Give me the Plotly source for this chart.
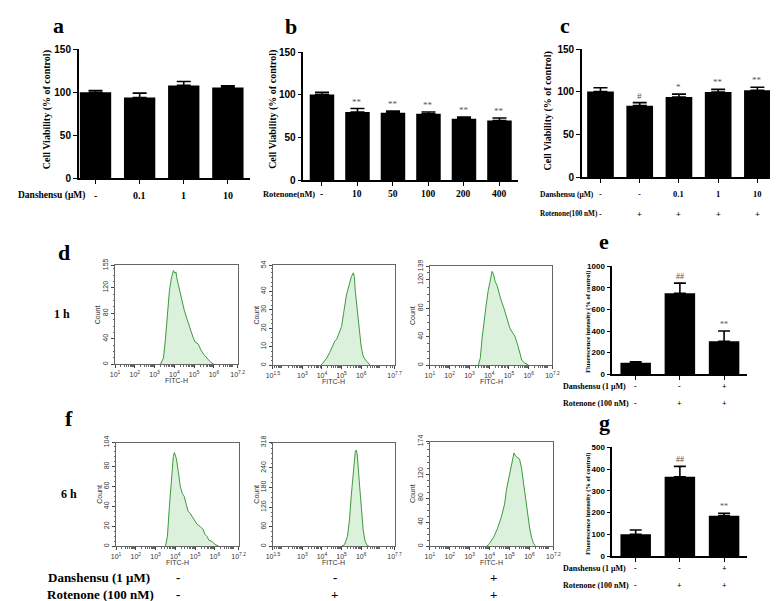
import plotly.graph_objects as go

W, H = 778, 601
def X(px): return px / W
def Y(py): return 1 - py / H

# ---------------- data ----------------
a_labels = ["-", "0.1", "1", "10"]
a_values = [100, 94, 108, 105.5]
a_errors = [2, 5, 4.5, 2]

b_labels = ["-", "10", "50", "100", "200", "400"]
b_values = [100.5, 80, 79, 78, 72, 70]
b_errors = [2.5, 4, 2, 2, 2, 3]
b_marks = ["", "**", "**", "**", "**", "**"]

c_dan = ["-", "-", "0.1", "1", "10"]
c_rot = ["-", "+", "+", "+", "+"]
c_values = [100.5, 84, 94, 100, 102]
c_errors = [4.5, 3.5, 3.5, 3, 3.5]
c_marks = ["", "#", "*", "**", "**"]

eg_dan = ["-", "-", "+"]
eg_rot = ["-", "+", "+"]
e_values = [105, 750, 305]
e_errors = [10, 95, 95]
e_marks = ["", "##", "**"]
g_values = [100, 365, 186]
g_errors = [20, 48, 11]
g_marks = ["", "##", "**"]

# flow cytometry histograms: log10(FITC-H) and counts
h1_log = [3.3, 3.45, 3.55, 3.65, 3.75, 3.85, 3.95, 4.02, 4.08, 4.12, 4.2, 4.3, 4.4, 4.5, 4.65, 4.8, 4.95, 5.05, 5.2, 5.35, 5.5, 5.7, 5.85, 6.0]
h1_cnt = [0, 10, 40, 80, 115, 135, 147, 143, 145, 136, 125, 108, 98, 85, 70, 55, 42, 35, 32, 22, 15, 8, 3, 0]
h2_log = [3.95, 4.1, 4.25, 4.4, 4.55, 4.65, 4.75, 4.85, 5.0, 5.1, 5.25, 5.4, 5.5, 5.6, 5.65, 5.7, 5.8, 5.9, 5.95, 6.0, 6.1, 6.2, 6.3, 6.45]
h2_cnt = [0, 2, 4, 7, 11, 13, 14, 17, 21, 28, 38, 44, 48, 50, 48, 40, 30, 22, 15, 10, 5, 3, 2, 0]
h3_log = [3.45, 3.55, 3.65, 3.75, 3.85, 3.95, 4.05, 4.15, 4.22, 4.3, 4.4, 4.5, 4.6, 4.75, 4.9, 5.05, 5.2, 5.3, 5.45, 5.55, 5.65, 5.8, 6.0]
h3_cnt = [0, 10, 40, 65, 85, 105, 120, 132, 128, 118, 112, 100, 92, 80, 66, 52, 45, 41, 28, 15, 7, 3, 0]
h4_log = [3.5, 3.6, 3.7, 3.8, 3.9, 3.95, 4.05, 4.15, 4.25, 4.35, 4.45, 4.55, 4.65, 4.75, 4.85, 4.95, 5.1, 5.25, 5.4, 5.5, 5.6, 5.7, 5.85, 6.0, 6.2]
h4_cnt = [0, 10, 40, 70, 90, 94, 88, 75, 60, 53, 50, 42, 35, 33, 30, 26, 22, 20, 17, 12, 10, 6, 5, 2, 0]
h5_log = [5.0, 5.15, 5.3, 5.4, 5.5, 5.6, 5.7, 5.75, 5.8, 5.9, 6.0, 6.1, 6.2, 6.3, 6.4]
h5_cnt = [0, 5, 30, 80, 160, 240, 290, 295, 280, 200, 110, 50, 15, 3, 0]
h6_log = [3.85, 4.0, 4.2, 4.4, 4.6, 4.75, 4.85, 4.95, 5.05, 5.15, 5.22, 5.3, 5.4, 5.5, 5.6, 5.7, 5.8, 5.9, 6.0, 6.1, 6.2, 6.3]
h6_cnt = [0, 5, 15, 30, 50, 70, 95, 110, 125, 145, 155, 150, 147, 145, 130, 105, 80, 55, 32, 15, 5, 0]

hist_x_ticks_a = [1, 2, 3, 4, 5, 6, 7.2]
hist_x_ticks_b = [1.5, 3, 4, 5, 6, 7.7]

# ---------------- styles ----------------
NARROW = "Liberation Sans Narrow, Arial Narrow, Liberation Sans, Arial"
SERIF = "Liberation Serif, Times New Roman, serif"
SANS = "Liberation Sans, Arial, sans-serif"

fig = go.Figure()
layout = dict(width=W, height=H, margin=dict(l=0, r=0, t=0, b=0),
              paper_bgcolor="white", plot_bgcolor="white", showlegend=False)
annotations = []

def ax_name(i, kind):
    return f"{kind}axis" if i == 1 else f"{kind}axis{i}"

def ref(i, kind):
    return kind if i == 1 else f"{kind}{i}"

def bar_panel(i, values, errors, xdom, ydom, xrange, yrange, ytick, bw, capw, tfs):
    n = len(values)
    fig.add_trace(go.Bar(
        x=list(range(n)), y=values, width=bw,
        marker=dict(color="black", line=dict(width=0)),
        error_y=dict(type="data", array=errors, arrayminus=[0] * n, symmetric=False,
                     color="black", thickness=1.6, width=capw),
        xaxis=ref(i, "x"), yaxis=ref(i, "y")))
    layout[ax_name(i, "x")] = dict(
        domain=[X(xdom[0]), X(xdom[1])], anchor=ref(i, "y"), range=xrange,
        autorange=False,
        tickvals=list(range(n)), showticklabels=False, ticks="outside", ticklen=4,
        tickwidth=1.3, tickcolor="black", showline=True, linecolor="black",
        linewidth=1.5, showgrid=False, zeroline=False, fixedrange=True)
    layout[ax_name(i, "y")] = dict(
        domain=[Y(ydom[0]), Y(ydom[1])], anchor=ref(i, "x"), range=yrange,
        autorange=False,
        tickvals=ytick, ticks="outside", ticklen=4, tickwidth=1.3, tickcolor="black",
        showline=True, linecolor="black", linewidth=1.5, showgrid=False,
        zeroline=False, tickfont=dict(family=NARROW, size=tfs, color="black", weight="bold"))

def marks(i, values, errors, mk, size=9):
    for k, m in enumerate(mk):
        if m:
            annotations.append(dict(x=k, y=values[k] + errors[k], xref=ref(i, "x"),
                                    yref=ref(i, "y"), text=m, showarrow=False,
                                    xanchor="center", yanchor="bottom", yshift=1, borderpad=0,
                                    font=dict(family=SERIF, size=size, color="#555")))

def row_text(i, labels, py, size=10):
    for k, t in enumerate(labels):
        annotations.append(dict(x=k, y=Y(py), xref=ref(i, "x"), yref="paper", text=t,
                                showarrow=False, borderpad=0, xanchor="center", yanchor="middle",
                                font=dict(family=SERIF, size=size,
                                          color="black", weight="bold")))

def free_text(px, py, text, size, anchor="center", angle=0, family=SERIF, weight="bold", color="black"):
    annotations.append(dict(x=X(px), y=Y(py), xref="paper", yref="paper", text=text,
                            showarrow=False, xanchor=anchor, yanchor="middle", borderpad=0,
                            textangle=angle, font=dict(family=family, size=size,
                                                       color=color, weight=weight)))

# panel a
bar_panel(1, a_values, a_errors, (65, 240), (167, 35), [-0.38, 3.51], [0, 150], [0, 50, 100, 150], 0.71, 7, 10)
row_text(1, a_labels, 185, size=10)
free_text(2, 185, "Danshensu (μM)", 9.5, anchor="left")
free_text(33, 97, "Cell Viability (% of control)", 10, angle=-90)
free_text(44, 11, "a", 22)

# panel b
bar_panel(2, b_values, b_errors, (294, 513), (169, 38), [-0.525, 5.525], [0, 150], [0, 50, 100, 150], 0.69, 7, 10)
marks(2, b_values, b_errors, b_marks)
row_text(2, b_labels, 183, size=9.5)
free_text(252, 183, "Rotenone(nM)", 8.4, anchor="left")
free_text(263, 96, "Cell Viability (% of control)", 10, angle=-90)
free_text(281, 12, "b", 22)

# panel c
bar_panel(3, c_values, c_errors, (578, 777), (166, 35), [-0.475, 4.5], [0, 150], [0, 50, 100, 150], 0.68, 7, 10)
marks(3, c_values, c_errors, c_marks)
row_text(3, c_dan, 183, size=8.5)
row_text(3, c_rot, 203, size=8.5)
free_text(534, 183, "Danshensu (μM)", 7.5, anchor="left")
free_text(534, 203, "Rotenone(100 nM)", 7.2, anchor="left")
free_text(543, 98, "Cell Viability (% of control)", 10, angle=-90)
free_text(561, 11, "c", 22)

# panel e
bar_panel(4, e_values, e_errors, (609, 746), (367, 257), [-0.53, 2.51], [0, 1000],
          [0, 200, 400, 600, 800, 1000], 0.69, 6, 8)
marks(4, e_values, e_errors, e_marks, size=8)
row_text(4, eg_dan, 380, size=8)
row_text(4, eg_rot, 397, size=8)
free_text(624, 380, "Danshensu (1 μM)", 8, anchor="right")
free_text(627, 397, "Rotenone (100 nM)", 8, anchor="right")
free_text(584, 314, "Fluorescence intensity (% of control)", 6.5, angle=-90)
free_text(601, 232, "e", 22)

# panel g
bar_panel(5, g_values, g_errors, (609, 746), (553, 442), [-0.53, 2.51], [0, 500],
          [0, 100, 200, 300, 400, 500], 0.69, 6, 8)
marks(5, g_values, g_errors, g_marks, size=8)
row_text(5, eg_dan, 566, size=8)
row_text(5, eg_rot, 583, size=8)
free_text(624, 566, "Danshensu (1 μM)", 8, anchor="right")
free_text(627, 583, "Rotenone (100 nM)", 8, anchor="right")
free_text(584, 500, "Fluorescence intensity (% of control)", 6.5, angle=-90)
free_text(601, 417, "g", 22)

# histograms
def sup_label(v):
    return f"10<sup>{v:g}</sup>"

def minor_vals(lo, hi):
    import math
    out = []
    for d in range(0, 9):
        for k in range(2, 10):
            v = d + math.log10(k)
            if lo < v < hi:
                out.append(v)
    return out

def hist_panel(i, lx, cnt, xdom, ydom, xr, xt, ymax, yt):
    fig.add_trace(go.Scatter(x=lx, y=cnt, mode="lines",
                             line=dict(color="#3c9a3c", width=1),
                             fill="tozeroy", fillcolor="rgba(205,235,205,0.7)",
                             xaxis=ref(i, "x"), yaxis=ref(i, "y")))
    layout[ax_name(i, "x")] = dict(
        domain=[X(xdom[0]), X(xdom[1])], anchor=ref(i, "y"), range=xr,
        tickvals=xt, ticktext=[sup_label(v) for v in xt], ticks="outside", ticklen=3,
        tickwidth=0.8, tickcolor="#444", showline=True, mirror=True, linecolor="#666",
        linewidth=0.8, showgrid=False, zeroline=False,
        tickfont=dict(family=SANS, size=7, color="#333"),
        minor=dict(tickvals=minor_vals(xr[0], xr[1]), ticks="outside", ticklen=1.5,
                   tickcolor="#666", tickwidth=0.6))
    layout[ax_name(i, "y")] = dict(
        domain=[Y(ydom[0]), Y(ydom[1])], anchor=ref(i, "x"), range=[0, ymax],
        tickvals=yt, ticks="outside", ticklen=3, tickwidth=0.8, tickcolor="#444",
        showline=True, mirror=True, linecolor="#666", linewidth=0.8, showgrid=False,
        zeroline=False, tickangle=-90, tickfont=dict(family=SANS, size=7, color="#333"),
        minor=dict(dtick=yt[1] / 4, ticks="outside", ticklen=1.5, tickcolor="#666", tickwidth=0.6))
    cx = (xdom[0] + xdom[1]) / 2
    free_text(cx, ydom[0] + 17, "FITC-H", 7, family=SANS, weight="normal", color="#333")
    free_text(xdom[0] - 17, (ydom[0] + ydom[1]) / 2, "Count", 7, angle=-90,
              family=SANS, weight="normal", color="#333")

hist_panel(6, h1_log, h1_cnt, (102, 227), (357, 256), [1, 7.2], hist_x_ticks_a, 155, [0, 40, 80, 120, 155])
hist_panel(7, h2_log, h2_cnt, (263, 387), (358, 256), [1.5, 7.7], hist_x_ticks_b, 54, [0, 10, 20, 30, 40, 54])
hist_panel(8, h3_log, h3_cnt, (423, 548), (358, 257), [1, 7.2], hist_x_ticks_a, 139, [0, 40, 80, 120, 139])
hist_panel(9, h4_log, h4_cnt, (103, 228), (543, 437), [1, 7.2], hist_x_ticks_a, 104, [0, 20, 40, 60, 80, 104])
hist_panel(10, h5_log, h5_cnt, (263, 387), (543, 437), [1.5, 7.7], hist_x_ticks_b, 318, [0, 60, 120, 180, 240, 318])
hist_panel(11, h6_log, h6_cnt, (423, 549), (543, 436), [1, 7.2], hist_x_ticks_a, 174, [0, 40, 80, 120, 174])

free_text(50, 243, "d", 22)
free_text(55, 412, "f", 22)
free_text(48, 306, "1 h", 12)
free_text(55, 490, "6 h", 12)

bottom_dan = ["-", "-", "+"]
bottom_rot = ["-", "+", "+"]
bottom_x = [166, 326, 488]
free_text(33, 575, "Danshensu (1 μM)", 13, anchor="left")
free_text(32, 592, "Rotenone (100 nM)", 13, anchor="left")
for k in range(3):
    free_text(bottom_x[k], 575, bottom_dan[k], 13)
    free_text(bottom_x[k], 592, bottom_rot[k], 13)

layout["annotations"] = annotations
fig.update_layout(**layout)
fig.write_html("out.html")
